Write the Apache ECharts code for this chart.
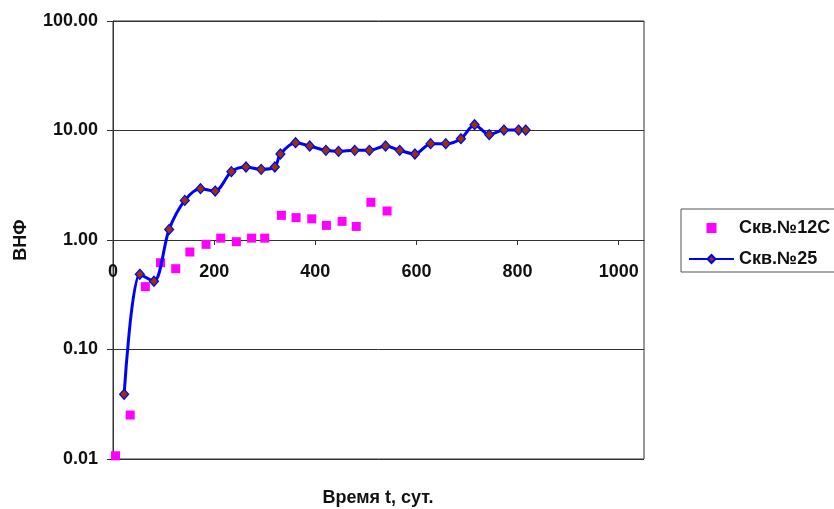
<!DOCTYPE html>
<html>
<head>
<meta charset="utf-8">
<script src="https://cdn.jsdelivr.net/npm/echarts@6/dist/echarts.min.js"></script>
<style>html,body{margin:0;padding:0;background:#fff}#c{width:834px;height:509px}</style>
</head>
<body>
<div id="c"></div>
<script>
// Скв.№12С (scatter)
const days12C = [5, 34, 64, 94, 124, 152, 184, 213, 244, 274, 300, 333, 362, 393, 422, 453, 481, 510, 542];
const vnf12C  = [0.0107, 0.0252, 0.375, 0.62, 0.547, 0.777, 0.913, 1.04, 0.965, 1.04, 1.04, 1.68, 1.60, 1.56, 1.36, 1.48, 1.33, 2.21, 1.84];
// Скв.№25 (line)
const days25 = [22, 53, 81, 111, 142, 173, 202, 234, 263, 293, 320, 331, 361, 389, 421, 446, 478, 507, 539, 567, 597, 628, 658, 688, 715, 744, 773, 802, 816];
const vnf25  = [0.039, 0.486, 0.42, 1.25, 2.30, 2.94, 2.80, 4.21, 4.64, 4.42, 4.64, 6.10, 7.74, 7.22, 6.59, 6.45, 6.59, 6.59, 7.22, 6.59, 6.10, 7.58, 7.58, 8.42, 11.3, 9.16, 10.1, 10.1, 10.1];
const seriesNames = ['Скв.№12С', 'Скв.№25'];
const xTitle = 'Время t, сут.';
const yTitle = 'ВНФ';

const FONT = 'Arial, "Liberation Sans", sans-serif';
const chart = echarts.init(document.getElementById('c'));
chart.setOption({
  animation: false,
  backgroundColor: '#fff',
  grid: { left: 113, right: 190, top: 21, bottom: 50, show: true, borderColor: '#333', borderWidth: 1,
          backgroundColor: 'transparent', outerBoundsMode: 'none', containLabel: false },
  xAxis: {
    type: 'value', min: 0, max: 1050, interval: 200, offset: -219,
    axisLine: { onZero: false, lineStyle: { color: '#333', width: 1 } },
    axisTick: { show: true, length: 5, lineStyle: { color: '#333' } },
    axisLabel: { showMaxLabel: false, margin: 23, fontFamily: FONT, fontWeight: 'bold', fontSize: 18, color: '#111',
      formatter: v => String(v) },
    splitLine: { show: false }
  },
  yAxis: {
    type: 'log', logBase: 10, min: 0.01, max: 100,
    name: yTitle, nameLocation: 'middle', nameGap: 83, nameRotate: 90,
    nameTextStyle: { fontFamily: FONT, fontWeight: 'bold', fontSize: 18, color: '#111' },
    axisLine: { show: true, onZero: false, lineStyle: { color: '#333', width: 1 } },
    axisTick: { show: true, length: 6, lineStyle: { color: '#333' } },
    axisLabel: { margin: 15, fontFamily: FONT, fontWeight: 'bold', fontSize: 18, color: '#111',
      formatter: v => Number(v).toFixed(2) },
    splitLine: { show: true, lineStyle: { color: '#333', width: 1 } },
    minorTick: { show: false }, minorSplitLine: { show: false }
  },
  legend: {
    orient: 'vertical', left: 681, top: 209,
    borderColor: '#555', borderWidth: 1, padding: [10, 12, 4, 7],
    itemWidth: 45, itemHeight: 10, itemGap: 13, symbolKeepAspect: true,
    textStyle: { fontFamily: FONT, fontWeight: 'bold', fontSize: 18, color: '#111' },
    data: [
      { name: seriesNames[0], icon: 'path://M0,0h10v10h-10z' },
      { name: seriesNames[1] }
    ]
  },
  graphic: [{
    type: 'text', x: 378, y: 489,
    style: { text: xTitle, textAlign: 'center', textVerticalAlign: 'top', font: 'bold 18px ' + FONT, fill: '#111' }
  }],
  series: [
    {
      name: seriesNames[0], type: 'scatter', symbol: 'rect', symbolSize: 9, symbolKeepAspect: true,
      itemStyle: { color: '#FF00FF', opacity: 1 },
      data: days12C.map((d, i) => [d, vnf12C[i]])
    },
    {
      name: seriesNames[1], type: 'line', smooth: 0.3, symbol: 'diamond', symbolSize: [9, 10],
      showAllSymbol: true,
      lineStyle: { color: '#0000FF', width: 3 },
      itemStyle: { color: '#993300', borderColor: '#0000FF', borderWidth: 1.2 },
      data: days25.map((d, i) => [d, vnf25[i]])
    }
  ]
});
</script>
</body>
</html>
